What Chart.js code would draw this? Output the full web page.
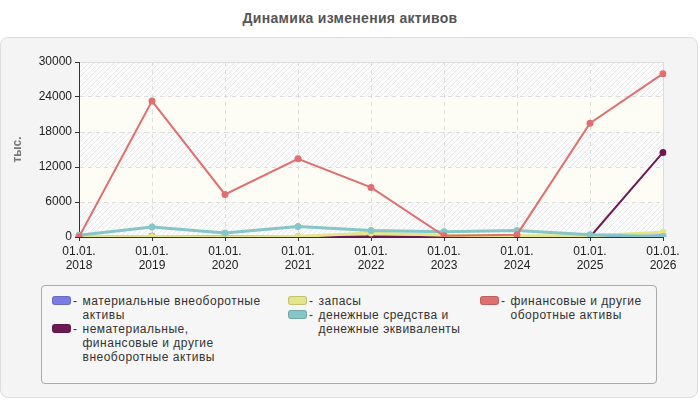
<!DOCTYPE html>
<html>
<head>
<meta charset="utf-8">
<script src="https://cdn.jsdelivr.net/npm/chart.js@4"></script>
<style>
    body { margin: 0; background: #fff; font-family: "Liberation Sans", Arial, sans-serif; }
    #title { position: absolute; left: 0; top: 10px; width: 700px; text-align: center;
             font-weight: bold; font-size: 14px; letter-spacing: 0.3px; color: #555; }
    #card { position: absolute; left: 0; top: 37px; width: 696px; height: 359px;
            background: #f4f4f4; border: 1px solid #ddd; border-radius: 8px; }
    #chartBox { position: absolute; left: 0; top: 37px; width: 698px; height: 240px; }
    #legend { position: absolute; left: 41px; top: 285px; width: 614px; height: 97px;
              border: 1px solid #aaa; border-radius: 4px; background: #f6f6f6;
              font-size: 12px; letter-spacing: 0.5px; color: #333; line-height: 14px; }
    .col { position: absolute; top: 8px; }
    .item { display: flex; align-items: flex-start; }
    .swatch { width: 19px; height: 9px; border-radius: 3px; margin-top: 2px; box-sizing: border-box; }
    .dash { margin: 0 5px 0 2px; }
</style>
</head>
<body>
<div id="title">Динамика изменения активов</div>
<div id="card"></div>
<div id="chartBox"><canvas id="chart"></canvas></div>
<div id="legend"></div>
<script>
// Données
var dates = ['2018', '2019', '2020', '2021', '2022', '2023', '2024', '2025', '2026'];
var seriesNames = ['материальные внеоборотные активы',
                   'нематериальные, финансовые и другие внеоборотные активы',
                   'запасы',
                   'денежные средства и денежные эквиваленты',
                   'финансовые и другие оборотные активы'];
var materialAssets = [0, 0, 0, 0, 50, 50, 50, 100, 300];
var intangibleAssets = [0, 150, 150, 0, 100, 0, 0, 0, 14500];
var stocks = [0, 100, 50, 100, 700, 300, 200, 200, 800];
var cash = [300, 1700, 700, 1800, 1100, 900, 1100, 400, 100];
var financialAssets = [0, 23300, 7300, 13400, 8500, 200, 400, 19500, 28000];
var yTicks = [0, 6000, 12000, 18000, 24000, 30000];

var colors = ['#7b7be8', '#6e1a52', '#e4e48a', '#86c6c6', '#e07070'];
var widths = [2, 2, 3, 3, 2];
var values = [materialAssets, intangibleAssets, stocks, cash, financialAssets];

/**
 * Fond de la zone de tracé : bandes hachurées / unies
 */
var plotBackground = {
    id: 'plotBackground',
    beforeDraw: function(chart){
        let ctx = chart.ctx;
        let area = chart.chartArea;
        let y = chart.scales.y;

        let tile = document.createElement('canvas');
        tile.width = 5; tile.height = 5;
        let tctx = tile.getContext('2d');
        tctx.strokeStyle = '#e9e9e9';
        tctx.lineWidth = 1;
        tctx.beginPath();
        tctx.moveTo(0, 5); tctx.lineTo(5, 0);
        tctx.stroke();
        let pattern = ctx.createPattern(tile, 'repeat');

        ctx.save();
        ctx.fillStyle = '#fdfdf6';
        ctx.fillRect(area.left, area.top, area.right - area.left, area.bottom - area.top);
        for(let i = 0; i < yTicks.length - 1; i += 2){
            let top = y.getPixelForValue(yTicks[i + 1]);
            let bottom = y.getPixelForValue(yTicks[i]);
            ctx.fillStyle = '#fbfbfb';
            ctx.fillRect(area.left, top, area.right - area.left, bottom - top);
            ctx.fillStyle = pattern;
            ctx.fillRect(area.left, top, area.right - area.left, bottom - top);
        }
        ctx.strokeStyle = '#dddddd';
        ctx.lineWidth = 1;
        ctx.beginPath();
        ctx.moveTo(area.left, area.top + 0.5);
        ctx.lineTo(area.right + 0.5, area.top + 0.5);
        ctx.lineTo(area.right + 0.5, area.bottom);
        ctx.stroke();
        ctx.restore();
    }
};

let datasets = [];
for(let i = 0; i < seriesNames.length; i++){
    datasets.push({
        label: seriesNames[i],
        data: values[i],
        borderColor: colors[i],
        backgroundColor: colors[i],
        borderWidth: widths[i],
        pointRadius: 3.5,
        pointBorderWidth: 0,
        pointHoverRadius: 3.5,
        tension: 0,
        fill: false,
        order: seriesNames.length - i // la dernière série est dessinée au-dessus
    });
}

let font = { size: 12, family: '"Liberation Sans", Arial' };

let ctx = document.getElementById('chart').getContext('2d');
let chart = new Chart(ctx, {
    type: 'line',
    data: {
        labels: dates.map(function(d){ return ['01.01.', d]; }),
        datasets: datasets
    },
    plugins: [plotBackground],
    options: {
        responsive: true,
        maintainAspectRatio: false,
        animation: false,
        layout: { padding: { top: 25, right: 35, left: 10, bottom: 0 } },
        plugins: {
            legend: { display: false },
            tooltip: { enabled: false }
        },
        scales: {
            x: {
                offset: false,
                grid: { color: '#dddddd', tickColor: '#333', tickLength: 4, tickBorderDash: [] },
                border: { display: true, color: '#333', dash: [4, 4] },
                ticks: { color: '#222', font: font, maxRotation: 0, autoSkip: false, padding: 3 },
                afterFit: function(scale){ scale.height = 40; }
            },
            y: {
                min: 0,
                max: 30000,
                afterBuildTicks: function(scale){
                    scale.ticks = yTicks.map(function(v){ return { value: v }; });
                },
                grid: { color: '#dddddd', tickColor: '#333', tickLength: 4, tickBorderDash: [] },
                border: { display: true, color: '#333', dash: [4, 4] },
                ticks: { color: '#222', font: font, padding: 3,
                         callback: function(v){ return String(v); } },
                title: { display: true, text: 'тыс.', color: '#777',
                         font: { size: 12, weight: 'bold', family: '"Liberation Sans", Arial' },
                         padding: { top: 0, bottom: 8 } },
                afterFit: function(scale){ scale.width = 69; }
            }
        }
    }
});

/**
 * Construit la légende HTML en 3 colonnes
 */
function buildLegend(){
    let legend = document.getElementById('legend');
    let colLefts = [10, 246, 438];
    let labelWidths = [180, 148, 148];
    for(let c = 0; c < 3; c++){
        let col = document.createElement('div');
        col.className = 'col';
        col.style.left = colLefts[c] + 'px';
        for(let i = c * 2; i < Math.min(c * 2 + 2, datasets.length); i++){
            let item = document.createElement('div');
            item.className = 'item';
            item.innerHTML = '<div class="swatch" style="background:' + datasets[i].borderColor +
                ';border:1px solid rgba(0,0,0,0.15)"></div><span class="dash">-</span>' +
                '<div style="width:' + labelWidths[c] + 'px">' + datasets[i].label + '</div>';
            col.appendChild(item);
        }
        legend.appendChild(col);
    }
}
buildLegend();
</script>
</body>
</html>
